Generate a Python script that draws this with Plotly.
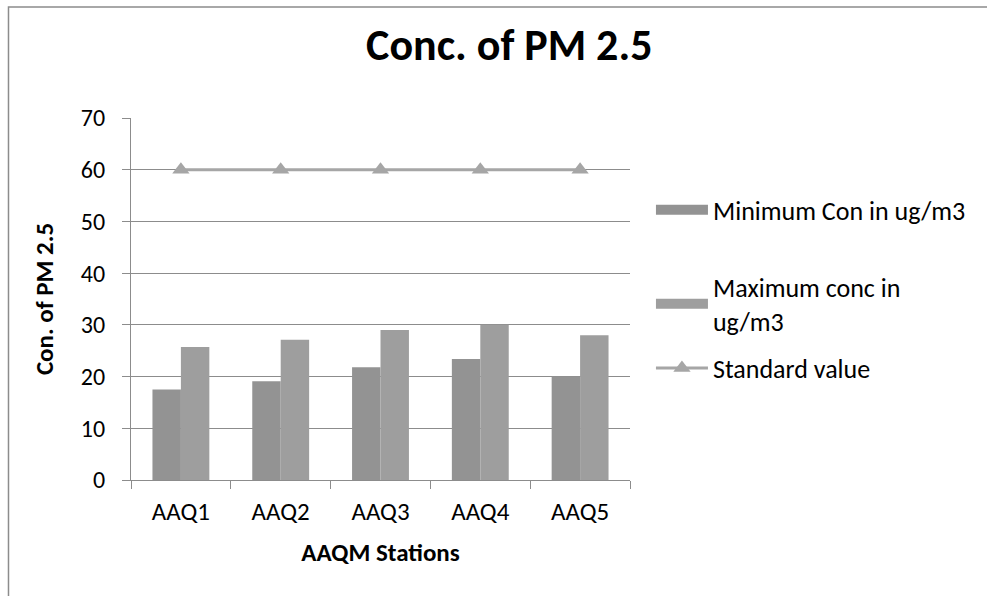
import plotly.graph_objects as go

stations = ["AAQ1", "AAQ2", "AAQ3", "AAQ4", "AAQ5"]
min_conc = [17.5, 19.1, 21.8, 23.4, 20.0]
max_conc = [25.7, 27.1, 29.0, 30.0, 28.0]
standard = [60, 60, 60, 60, 60]

FONT = "Carlito, Lato, 'Open Sans', sans-serif"
MIN_COLOR = "#939393"
MAX_COLOR = "#9e9e9e"
STD_COLOR = "#a6a6a6"

fig = go.Figure()
fig.add_trace(go.Bar(x=stations, y=min_conc, name="Minimum Con in ug/m3", showlegend=False,
                     marker=dict(color=MIN_COLOR, line=dict(width=0))))
fig.add_trace(go.Bar(x=stations, y=max_conc, name="Maximum conc in<br>ug/m3", showlegend=False,
                     marker=dict(color=MAX_COLOR, line=dict(width=0))))
fig.add_trace(go.Scatter(x=stations, y=standard, name="Standard value", mode="lines+markers",
                         legend="legend3",
                         line=dict(color=STD_COLOR, width=3),
                         marker=dict(symbol="triangle-up", size=15, color=STD_COLOR)))
# legend-only swatches (wide rectangles like the original)
fig.add_trace(go.Scatter(x=[None], y=[None], name="Minimum Con in ug/m3", mode="lines",
                         legend="legend", line=dict(color=MIN_COLOR, width=13), hoverinfo="skip"))
fig.add_trace(go.Scatter(x=[None], y=[None], name="Maximum conc in<br>ug/m3", mode="lines",
                         legend="legend2", line=dict(color=MAX_COLOR, width=13), hoverinfo="skip"))

leg_common = dict(x=1.042, xanchor="left", yanchor="middle", font=dict(size=26, family=FONT),
                  itemwidth=52, bgcolor="rgba(0,0,0,0)", borderwidth=0)

fig.update_layout(
    width=987, height=596,
    margin=dict(l=131, r=357, t=118, b=116, autoexpand=False),
    paper_bgcolor="white", plot_bgcolor="white",
    font=dict(family=FONT, size=24, color="#000000"),
    title=dict(text="<b>Conc. of PM 2.5</b>", xref="container", yref="container",
               x=0.516, xanchor="center", y=0.9245, yanchor="middle",
               font=dict(size=44, family=FONT)),
    barmode="group", bargap=0.43, bargroupgap=0,
    showlegend=True,
    legend=dict(y=0.746, **leg_common),
    legend2=dict(y=0.486, **leg_common),
    legend3=dict(y=0.309, **leg_common),
    xaxis=dict(title=dict(text="<b>AAQM Stations</b>", font=dict(size=25), standoff=17),
               showline=True, linecolor="#8c8c8c", linewidth=1, ticks="outside", ticklen=8,
               tickcolor="#8c8c8c", tickson="boundaries", showgrid=False,
               tickfont=dict(size=25), ticklabelstandoff=9, automargin=False),
    yaxis=dict(title=dict(text="<b>Con. of PM 2.5</b>", font=dict(size=25), standoff=20),
               range=[0, 70], dtick=10, showline=True, linecolor="#8c8c8c", linewidth=1,
               ticks="outside", ticklen=8, tickcolor="#8c8c8c", showgrid=True, gridcolor="#8c8c8c",
               gridwidth=1, zeroline=False, tickfont=dict(size=24), ticklabelstandoff=12,
               automargin=False),
)

# chart-area frame: only the left and top edges are visible in the original
fig.add_shape(type="path", xref="paper", yref="paper",
              path="M -0.2455,-0.35 L -0.2455,1.3066 L 2.0,1.3066",
              line=dict(color="#8c8c8c", width=1.5), layer="below")

fig.write_html(
    "out.html", config={"displayModeBar": False},
    post_script=("document.body.style.margin='0';"
                 "document.body.style.overflow='hidden';"
                 "document.documentElement.style.overflow='hidden';"),
)
